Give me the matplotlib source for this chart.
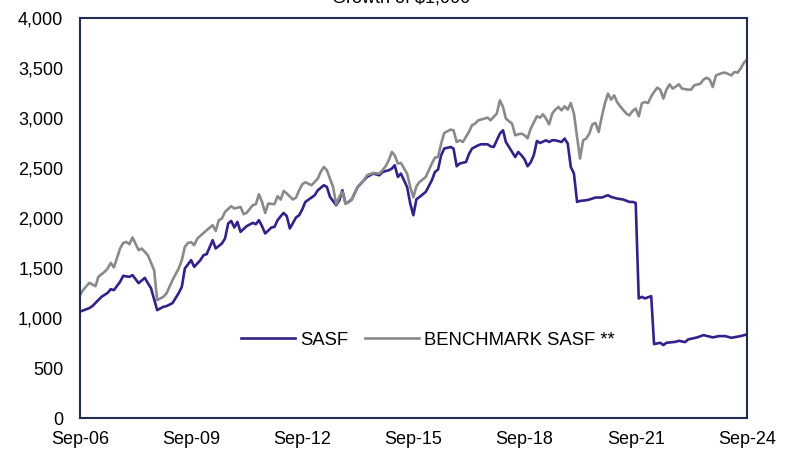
import numpy as np
import pandas as pd
import matplotlib
matplotlib.use("Agg")
from matplotlib import pyplot as plt
import matplotlib.dates as mdates
from matplotlib.ticker import FuncFormatter

plt.rcParams['font.family'] = ['Liberation Sans', 'DejaVu Sans']

# SASF (monthly readings, irregular where the picture is smooth)
sasf_dates = [
    "2006-09", "2006-12", "2007-01", "2007-03", "2007-04", "2007-06", "2007-07", "2007-08",
    "2007-10", "2007-11", "2008-01", "2008-02", "2008-04", "2008-06", "2008-07", "2008-08",
    "2008-10", "2008-12", "2009-01", "2009-03", "2009-05", "2009-06", "2009-07", "2009-09",
    "2009-10", "2009-12", "2010-01", "2010-02", "2010-04", "2010-05", "2010-07", "2010-08",
    "2010-09", "2010-10", "2010-11", "2010-12", "2011-01", "2011-03", "2011-05", "2011-06",
    "2011-07", "2011-08", "2011-09", "2011-11", "2011-12", "2012-01", "2012-02", "2012-03",
    "2012-04", "2012-05", "2012-07", "2012-08", "2012-09", "2012-10", "2013-01", "2013-02",
    "2013-04", "2013-05", "2013-06", "2013-08", "2013-09", "2013-10", "2013-11", "2013-12",
    "2014-01", "2014-03", "2014-05", "2014-06", "2014-08", "2014-10", "2014-11", "2015-01",
    "2015-02", "2015-03", "2015-04", "2015-05", "2015-07", "2015-08", "2015-09", "2015-10",
    "2015-11", "2016-01", "2016-03", "2016-04", "2016-05", "2016-06", "2016-07", "2016-09",
    "2016-10", "2016-11", "2016-12", "2017-02", "2017-03", "2017-04", "2017-06", "2017-07",
    "2017-09", "2017-10", "2017-11", "2018-01", "2018-02", "2018-03", "2018-04", "2018-06",
    "2018-07", "2018-08", "2018-09", "2018-10", "2018-11", "2018-12", "2019-01", "2019-02",
    "2019-04", "2019-05", "2019-06", "2019-07", "2019-09", "2019-10", "2019-11", "2019-12",
    "2020-01", "2020-02", "2020-03", "2020-05", "2020-06", "2020-08", "2020-10", "2020-12",
    "2021-01", "2021-03", "2021-05", "2021-07", "2021-08", "2021-09", "2021-10", "2021-11",
    "2021-12", "2022-02", "2022-03", "2022-05", "2022-06", "2022-07", "2022-10", "2022-11",
    "2023-01", "2023-02", "2023-05", "2023-07", "2023-10", "2023-12", "2024-02", "2024-04",
    "2024-07", "2024-09",
]
sasf_values = [
    1065, 1100, 1120, 1180, 1213, 1253, 1290, 1280,
    1363, 1423, 1413, 1430, 1350, 1403, 1350, 1300,
    1080, 1113, 1120, 1150, 1250, 1313, 1497, 1580,
    1513, 1580, 1630, 1640, 1780, 1697, 1747, 1797,
    1947, 1973, 1907, 1963, 1863, 1920, 1953, 1940,
    1980, 1920, 1847, 1907, 1913, 1980, 2020, 2053,
    2020, 1897, 2007, 2030, 2090, 2163, 2230, 2280,
    2330, 2313, 2213, 2130, 2180, 2280, 2147, 2163,
    2187, 2313, 2380, 2413, 2447, 2430, 2463, 2480,
    2497, 2530, 2413, 2447, 2313, 2147, 2030, 2190,
    2213, 2263, 2380, 2463, 2487, 2630, 2697, 2713,
    2697, 2520, 2547, 2563, 2640, 2697, 2730, 2740,
    2740, 2720, 2713, 2847, 2880, 2763, 2713, 2613,
    2663, 2630, 2590, 2520, 2560, 2630, 2773, 2753,
    2780, 2763, 2780, 2780, 2763, 2797, 2747, 2513,
    2447, 2163, 2173, 2180, 2187, 2207, 2207, 2230,
    2213, 2197, 2187, 2163, 2163, 2153, 1197, 1213,
    1197, 1220, 740, 753, 730, 753, 763, 773,
    760, 787, 807, 830, 807, 820, 820, 803,
    820, 837,
]

# BENCHMARK SASF
bench_dates = [
    "2006-09", "2006-10", "2006-12", "2007-02", "2007-03", "2007-05", "2007-06", "2007-07",
    "2007-08", "2007-10", "2007-11", "2007-12", "2008-01", "2008-02", "2008-04", "2008-05",
    "2008-07", "2008-09", "2008-10", "2008-12", "2009-01", "2009-03", "2009-05", "2009-06",
    "2009-07", "2009-08", "2009-09", "2009-10", "2009-11", "2010-01", "2010-02", "2010-04",
    "2010-05", "2010-06", "2010-07", "2010-08", "2010-10", "2010-11", "2011-01", "2011-02",
    "2011-03", "2011-05", "2011-06", "2011-07", "2011-08", "2011-09", "2011-10", "2011-12",
    "2012-01", "2012-02", "2012-03", "2012-04", "2012-06", "2012-07", "2012-08", "2012-09",
    "2012-10", "2012-12", "2013-02", "2013-03", "2013-04", "2013-05", "2013-07", "2013-08",
    "2013-09", "2013-10", "2013-11", "2013-12", "2014-01", "2014-03", "2014-05", "2014-06",
    "2014-08", "2014-10", "2014-11", "2014-12", "2015-01", "2015-02", "2015-03", "2015-04",
    "2015-05", "2015-07", "2015-08", "2015-09", "2015-10", "2015-11", "2016-01", "2016-03",
    "2016-04", "2016-05", "2016-06", "2016-07", "2016-09", "2016-10", "2016-11", "2016-12",
    "2017-01", "2017-03", "2017-04", "2017-05", "2017-06", "2017-08", "2017-09", "2017-10",
    "2017-12", "2018-01", "2018-02", "2018-03", "2018-05", "2018-06", "2018-07", "2018-08",
    "2018-09", "2018-10", "2018-11", "2019-01", "2019-02", "2019-03", "2019-04", "2019-05",
    "2019-06", "2019-07", "2019-08", "2019-09", "2019-10", "2019-11", "2019-12", "2020-01",
    "2020-02", "2020-03", "2020-04", "2020-05", "2020-06", "2020-07", "2020-08", "2020-09",
    "2020-10", "2020-11", "2020-12", "2021-01", "2021-02", "2021-03", "2021-04", "2021-06",
    "2021-07", "2021-08", "2021-09", "2021-10", "2021-11", "2021-12", "2022-01", "2022-02",
    "2022-03", "2022-04", "2022-05", "2022-06", "2022-07", "2022-08", "2022-09", "2022-11",
    "2022-12", "2023-02", "2023-03", "2023-04", "2023-06", "2023-07", "2023-08", "2023-09",
    "2023-10", "2023-11", "2024-01", "2024-02", "2024-04", "2024-05", "2024-06", "2024-07",
    "2024-08", "2024-09",
]
bench_values = [
    1230, 1280, 1353, 1320, 1413, 1463, 1497, 1553,
    1507, 1697, 1753, 1763, 1740, 1807, 1680, 1697,
    1630, 1480, 1180, 1213, 1247, 1380, 1497, 1580,
    1713, 1753, 1760, 1730, 1797, 1853, 1880, 1930,
    1873, 1980, 1997, 2063, 2120, 2097, 2113, 2040,
    2053, 2130, 2140, 2240, 2163, 2053, 2147, 2140,
    2220, 2187, 2273, 2247, 2187, 2207, 2280, 2340,
    2360, 2330, 2397, 2463, 2513, 2480, 2313, 2140,
    2213, 2263, 2147, 2163, 2187, 2313, 2380, 2430,
    2453, 2447, 2480, 2520, 2580, 2663, 2630, 2547,
    2553, 2447, 2313, 2210, 2320, 2363, 2413, 2547,
    2607, 2613, 2747, 2853, 2887, 2880, 2763, 2780,
    2763, 2863, 2930, 2947, 2980, 2997, 3007, 2980,
    3047, 3180, 3113, 2997, 2947, 2830, 2840, 2847,
    2830, 2800, 2897, 3020, 3007, 3040, 2997, 2940,
    3047, 3087, 3113, 3080, 3120, 3087, 3153, 3047,
    2813, 2597, 2780, 2797, 2847, 2940, 2953, 2863,
    3013, 3147, 3247, 3187, 3230, 3163, 3120, 3047,
    3030, 3073, 3097, 3020, 3150, 3163, 3153, 3220,
    3263, 3307, 3287, 3197, 3287, 3340, 3297, 3340,
    3297, 3287, 3287, 3330, 3347, 3387, 3407, 3387,
    3313, 3430, 3453, 3457, 3430, 3463, 3457, 3497,
    3553, 3587,
]

x_ticks = ["2006-09", "2009-09", "2012-09", "2015-09", "2018-09", "2021-09", "2024-09"]
y_ticks = [0, 500, 1000, 1500, 2000, 2500, 3000, 3500, 4000]

sasf = pd.Series(sasf_values, index=pd.to_datetime(sasf_dates))
bench = pd.Series(bench_values, index=pd.to_datetime(bench_dates))

navy = '#1f2b4f'

fig = plt.figure(figsize=(7.92, 4.49), dpi=100)
ax = fig.add_axes([0.101, 0.069, 0.842, 0.89])

ax.plot(sasf.index, sasf.values, color='#35208a', lw=1.9, label='SASF')
ax.plot(bench.index, bench.values, color='#8a8a8a', lw=1.9, label='BENCHMARK SASF **')

ax.set_xlim(pd.Timestamp(x_ticks[0]), pd.Timestamp(x_ticks[-1]))
ax.set_ylim(0, 4000)
ax.set_xticks(pd.to_datetime(x_ticks))
ax.xaxis.set_major_formatter(mdates.DateFormatter('%b-%y'))
ax.set_yticks(y_ticks)
ax.yaxis.set_major_formatter(FuncFormatter(lambda v, p: f"{int(v):,}"))
ax.tick_params(axis='both', length=0, labelsize=13, colors='black')
ax.tick_params(axis='y', pad=12)
ax.tick_params(axis='x', pad=9)

for s in ax.spines.values():
    s.set_color(navy)
    s.set_linewidth(1.5)

ax.legend(loc='center', bbox_to_anchor=(0.522, 0.195), ncol=2, frameon=False,
          fontsize=13.3, handlelength=2.9, handletextpad=0.3, columnspacing=0.9)

# title sits mostly above the visible area in the source picture
fig.text(0.506, 1 - 2.5 / 449, 'Growth of $1,000', ha='center', va='baseline', fontsize=13)

plt.savefig('out.png', dpi=100)
plt.close()
